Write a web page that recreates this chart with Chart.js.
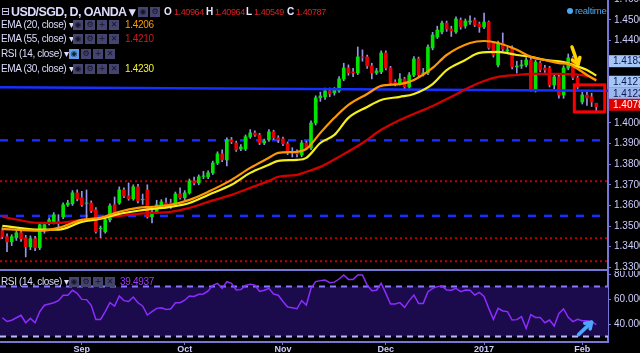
<!DOCTYPE html>
<html><head><meta charset="utf-8">
<script src="https://cdn.jsdelivr.net/npm/chart.js@4.4.0/dist/chart.umd.min.js"></script>
<style>
html,body{margin:0;padding:0;background:#000;width:640px;height:353px;overflow:hidden;}
#wrap{position:relative;width:640px;height:353px;background:#000;}
canvas{position:absolute;left:0;}
#main{top:0;}
#rsi{top:271px;}
.lg{position:absolute;font-family:"Liberation Sans",Arial,sans-serif;color:#dcdcff;white-space:nowrap;font-size:10px;line-height:12px;letter-spacing:-0.35px;}
.ttl{font-weight:bold;font-size:12.5px;line-height:14px;letter-spacing:-0.6px;}
.ic{position:absolute;width:10px;height:10px;background:#44446e;color:#15152c;font-size:8px;line-height:10px;text-align:center;font-family:"DejaVu Sans",sans-serif;letter-spacing:0;}
.ic.on{background:#5e9be8;color:#123;}
.val{position:absolute;font-family:"Liberation Sans",Arial,sans-serif;font-size:10px;line-height:12px;white-space:nowrap;letter-spacing:-0.3px;}
.ohlc{font-size:9px;letter-spacing:-0.4px;}
.b{font-weight:bold;color:#e8e8ff;}
</style>
</head><body>
<div id="wrap">
<canvas id="main" width="640" height="271" style="width:640px;height:271px"></canvas>
<canvas id="rsi" width="640" height="82" style="width:640px;height:82px"></canvas>

<div class="lg" style="left:1px;top:5px;font-size:11px;line-height:14px;font-family:'DejaVu Sans'">⊟</div>
<div class="lg ttl" style="left:11px;top:5px">USD/SGD, D, OANDA ▾</div>
<div class="ic" style="left:138px;top:7px">◉</div><div class="ic" style="left:150px;top:7px">⚙</div>
<div class="val b" style="left:164px;top:6px">O</div><div class="val ohlc" style="left:174px;top:6px;color:#e02020">1.40964</div>
<div class="val b" style="left:206px;top:6px">H</div><div class="val ohlc" style="left:215px;top:6px;color:#e02020">1.40964</div>
<div class="val b" style="left:246px;top:6px">L</div><div class="val ohlc" style="left:254px;top:6px;color:#e02020">1.40549</div>
<div class="val b" style="left:287px;top:6px">C</div><div class="val ohlc" style="left:296px;top:6px;color:#e02020">1.40787</div>

<div class="lg" style="left:1px;top:19px">EMA (20, close) ▾</div>
<div class="ic" style="left:73px;top:20px">◉</div><div class="ic" style="left:85px;top:20px">⚙</div><div class="ic" style="left:97px;top:20px">+</div><div class="ic" style="left:109px;top:20px">✕</div>
<div class="val" style="left:125px;top:19px;color:#ff9a00">1.4206</div>

<div class="lg" style="left:1px;top:33px">EMA (55, close) ▾</div>
<div class="ic" style="left:73px;top:34px">◉</div><div class="ic" style="left:85px;top:34px">⚙</div><div class="ic" style="left:97px;top:34px">+</div><div class="ic" style="left:109px;top:34px">✕</div>
<div class="val" style="left:125px;top:33px;color:#d81818">1.4210</div>

<div class="lg" style="left:1px;top:48px">RSI (14, close) ▾</div>
<div class="ic on" style="left:69px;top:49px">◉</div><div class="ic" style="left:81px;top:49px">⚙</div><div class="ic" style="left:93px;top:49px">+</div><div class="ic" style="left:105px;top:49px">✕</div>

<div class="lg" style="left:1px;top:63px">EMA (30, close) ▾</div>
<div class="ic" style="left:73px;top:64px">◉</div><div class="ic" style="left:85px;top:64px">⚙</div><div class="ic" style="left:97px;top:64px">+</div><div class="ic" style="left:109px;top:64px">✕</div>
<div class="val" style="left:125px;top:63px;color:#f2f230">1.4230</div>

<div class="lg" style="left:1px;top:276px">RSI (14, close) ▾</div>
<div class="ic" style="left:69px;top:277px">◉</div><div class="ic" style="left:81px;top:277px">⚙</div><div class="ic" style="left:93px;top:277px">+</div><div class="ic" style="left:105px;top:277px">✕</div>
<div class="val" style="left:120px;top:276px;color:#9a3cff">39.4937</div>

<div style="position:absolute;left:567px;top:8px;width:6px;height:6px;border-radius:3px;background:#4ea6ee"></div>
<div class="val" style="left:575px;top:5px;color:#4ea6ee;font-size:9.5px">realtime</div>
</div>
<script>
// ---------- DATA ----------
const opens  = [1.3477,1.3448,1.3423,1.3443,1.3467,1.3443,1.3399,1.3438,1.3394,1.3477,1.3515,1.3520,1.3523,1.3545,1.3603,1.3608,1.3661,1.3637,1.3610,1.3612,1.3579,1.3487,1.3472,1.3530,1.3603,1.3612,1.3675,1.3646,1.3632,1.3690,1.3627,1.3675,1.3545,1.3569,1.3593,1.3612,1.3612,1.3603,1.3656,1.3637,1.3661,1.3719,1.3709,1.3741,1.3739,1.3758,1.3806,1.3850,1.3821,1.3918,1.3903,1.3874,1.3874,1.3933,1.3952,1.3942,1.3903,1.3918,1.3957,1.3928,1.3923,1.3899,1.3860,1.3855,1.3845,1.3903,1.3879,1.4000,1.4122,1.4127,1.4156,1.4146,1.4156,1.4214,1.4267,1.4248,1.4243,1.4321,1.4321,1.4277,1.4243,1.4248,1.4340,1.4267,1.4199,1.4194,1.4214,1.4175,1.4233,1.4311,1.4238,1.4243,1.4364,1.4418,1.4442,1.4485,1.4456,1.4442,1.4500,1.4471,1.4490,1.4500,1.4481,1.4466,1.4490,1.4388,1.4282,1.4388,1.4350,1.4364,1.4272,1.4277,1.4282,1.4306,1.4161,1.4291,1.4267,1.4267,1.4185,1.4224,1.4136,1.4267,1.4316,1.4219,1.4102,1.4136,1.4127,1.4096];
const highs  = [1.3492,1.3462,1.3458,1.3480,1.3482,1.3455,1.3452,1.3450,1.3512,1.3518,1.3540,1.3565,1.3555,1.3612,1.3625,1.3672,1.3675,1.3668,1.3675,1.3622,1.3590,1.3500,1.3540,1.3608,1.3641,1.3690,1.3685,1.3709,1.3700,1.3702,1.3655,1.3700,1.3580,1.3625,1.3628,1.3635,1.3630,1.3665,1.3685,1.3672,1.3728,1.3738,1.3748,1.3765,1.3768,1.3815,1.3860,1.3870,1.3928,1.3930,1.3912,1.3895,1.3942,1.3968,1.3962,1.3950,1.3922,1.3968,1.3965,1.3938,1.3932,1.3908,1.3880,1.3870,1.3915,1.3912,1.4010,1.4132,1.4150,1.4170,1.4170,1.4172,1.4225,1.4290,1.4282,1.4265,1.4369,1.4355,1.4330,1.4290,1.4265,1.4350,1.4350,1.4275,1.4210,1.4240,1.4222,1.4245,1.4322,1.4320,1.4265,1.4380,1.4440,1.4470,1.4495,1.4495,1.4470,1.4515,1.4510,1.4505,1.4520,1.4510,1.4490,1.4534,1.4495,1.4395,1.4398,1.4437,1.4368,1.4375,1.4300,1.4305,1.4318,1.4315,1.4305,1.4300,1.4280,1.4275,1.4235,1.4232,1.4278,1.4335,1.4325,1.4228,1.4150,1.4150,1.4145,1.4096];
const lows   = [1.3438,1.3375,1.3405,1.3430,1.3425,1.3350,1.3385,1.3380,1.3385,1.3465,1.3505,1.3510,1.3495,1.3535,1.3595,1.3600,1.3622,1.3595,1.3530,1.3565,1.3465,1.3443,1.3465,1.3520,1.3555,1.3605,1.3638,1.3625,1.3625,1.3612,1.3605,1.3538,1.3515,1.3560,1.3585,1.3590,1.3585,1.3595,1.3630,1.3628,1.3655,1.3700,1.3700,1.3730,1.3730,1.3750,1.3798,1.3812,1.3792,1.3900,1.3862,1.3866,1.3866,1.3925,1.3935,1.3895,1.3895,1.3910,1.3920,1.3905,1.3890,1.3846,1.3835,1.3835,1.3836,1.3870,1.3870,1.3990,1.4105,1.4115,1.4128,1.4135,1.4148,1.4205,1.4232,1.4225,1.4235,1.4300,1.4265,1.4214,1.4235,1.4240,1.4258,1.4185,1.4180,1.4185,1.4165,1.4168,1.4225,1.4225,1.4228,1.4235,1.4355,1.4410,1.4432,1.4445,1.4420,1.4435,1.4455,1.4460,1.4478,1.4468,1.4440,1.4458,1.4358,1.4320,1.4272,1.4350,1.4340,1.4262,1.4242,1.4265,1.4272,1.4155,1.4150,1.4248,1.4245,1.4175,1.4165,1.4120,1.4120,1.4258,1.4210,1.4165,1.4092,1.4085,1.4080,1.4055];
const closes = [1.3448,1.3423,1.3448,1.3467,1.3438,1.3399,1.3438,1.3394,1.3506,1.3506,1.3530,1.3554,1.3520,1.3603,1.3612,1.3661,1.3632,1.3603,1.3612,1.3574,1.3472,1.3490,1.3530,1.3598,1.3564,1.3675,1.3646,1.3632,1.3690,1.3622,1.3630,1.3545,1.3569,1.3603,1.3617,1.3598,1.3598,1.3656,1.3637,1.3661,1.3719,1.3709,1.3739,1.3743,1.3758,1.3806,1.3850,1.3821,1.3918,1.3908,1.3870,1.3884,1.3933,1.3952,1.3942,1.3903,1.3913,1.3957,1.3928,1.3918,1.3899,1.3855,1.3855,1.3850,1.3903,1.3879,1.4000,1.4122,1.4131,1.4156,1.4141,1.4161,1.4214,1.4267,1.4243,1.4243,1.4321,1.4318,1.4277,1.4243,1.4253,1.4340,1.4267,1.4194,1.4194,1.4214,1.4175,1.4233,1.4311,1.4233,1.4243,1.4369,1.4427,1.4451,1.4485,1.4456,1.4447,1.4505,1.4466,1.4495,1.4495,1.4476,1.4466,1.4490,1.4364,1.4330,1.4388,1.4359,1.4355,1.4272,1.4277,1.4282,1.4306,1.4161,1.4296,1.4257,1.4257,1.4185,1.4224,1.4136,1.4267,1.4316,1.4219,1.4175,1.4136,1.4122,1.4102,1.4079];

const rsiValues = [45,42,43,45,47,41,44.5,41,49.9,55,56,57,58.7,63,63,67,64.6,59.7,59.5,55,43.7,43.7,49.9,57.1,54.4,62.4,58.7,58,61.6,57,54.4,47.2,49.9,52.5,53,51.7,52,57,57,59,62.4,62,63.8,64,66.4,71,72.5,68.5,73.8,72.5,67.2,67.5,70.9,71.7,71,66,67,68.5,64,63,58,53.6,53,52.2,58.7,55.2,68.5,73.9,74.7,75.2,73.1,73.5,76,79.2,75.7,75.7,79.2,79.2,71.2,66.7,67,72.5,64.5,56,56,57.1,53.3,58.7,63.2,56.5,56.5,65.9,68.5,69.9,70.4,67.2,67,68.5,65.9,67.2,67,63.2,65.3,62,52.5,43.7,52.5,50.4,49.9,43.2,43.5,45.9,36.5,47.5,45.3,45.3,41,43.2,38.4,48.5,52,45.3,41.9,43.7,42.7,42.7,41.9,39.49];

// EMA lines at sample bars
const ema20Idx = [0,8,12,17,21,25,29,32,36,40,44,49,53,57,59,63,65,68,71,74,78,81,85,88,92,95,100,103,106,110,113,116,119,121,122,125,127];
const ema20    = [1.3486,1.3477,1.3491,1.3530,1.3540,1.3569,1.3588,1.3593,1.3603,1.3627,1.3666,1.3724,1.3782,1.3831,1.3855,1.3860,1.3874,1.3952,1.4025,1.4088,1.4141,1.4180,1.4189,1.4209,1.4267,1.4330,1.4388,1.4398,1.4388,1.4355,1.4321,1.4306,1.4291,1.4287,1.4277,1.4233,1.4206];
const ema30Idx = [0,8,12,17,21,25,29,32,36,40,44,49,53,57,59,63,65,68,71,74,78,81,85,88,92,95,99,102,106,110,113,116,120,122,125,127];
const ema30    = [1.3501,1.3482,1.3482,1.3520,1.3535,1.3559,1.3574,1.3583,1.3593,1.3612,1.3651,1.3700,1.3758,1.3797,1.3816,1.3821,1.3831,1.3903,1.3942,1.4025,1.4078,1.4112,1.4127,1.4141,1.4189,1.4257,1.4306,1.4340,1.4345,1.4330,1.4321,1.4306,1.4296,1.4282,1.4257,1.4230];
const ema55Idx = [0,8,12,17,21,25,29,32,36,40,44,49,53,57,59,63,65,68,72,77,81,85,92,96,100,103,106,110,113,119,125,127];
const ema55    = [1.3545,1.3515,1.3515,1.3530,1.3540,1.3549,1.3559,1.3564,1.3569,1.3588,1.3617,1.3651,1.3685,1.3719,1.3739,1.3748,1.3763,1.3787,1.3836,1.3903,1.3967,1.4015,1.4083,1.4127,1.4175,1.4204,1.4224,1.4233,1.4238,1.4238,1.4228,1.4210];

const monthTickIdx    = [17,39,60,82,103,124];
const monthTickLabels = ['Sep','Oct','Nov','Dec','2017','Feb'];
const priceTicks = [1.33,1.34,1.35,1.36,1.37,1.38,1.39,1.40,1.41,1.42,1.43,1.44,1.45,1.46];
const rsiTicks   = [40,60,80];
const rsiBand    = [70,30];

const trendLine       = [1.4173,1.4156];      // blue solid, start/end
const blueDashLevels  = [1.3916,1.3549];
const redDotLevels    = [1.3717,1.3440,1.3329];
const axisMarkers     = [1.41835,1.41273,1.41236,1.40787];
const boxRange        = [122.3,128.8,1.4185,1.4054];  // x0,x1,top,bottom
const yellowArrow     = [121.8,1.4369,123.1,1.4285];  // from -> to
const blueArrowRsi    = [123.2,31.5,126.0,41.5];

// ---------- STYLE ----------
const GREEN='#00e400', RED='#e60000', WICK='rgb(150,150,230)', AX='rgb(118,118,215)', TXT='rgb(205,205,255)';
const XMIN=-0.5, XMAX=129.5;
const markerStyle=[{bg:'#a6c6f6',fg:'#0c1850',dy:-24},{bg:'#a6c6f6',fg:'#0c1850',dy:-15},{bg:'#9db8ee',fg:'#0c1850',dy:-4},{bg:'#e00000',fg:'#ffffff',dy:-2}];

Chart.defaults.font.family='"Liberation Sans", Arial, sans-serif';
Chart.defaults.animation=false;

const bodyColors = opens.map((o,i)=> closes[i]>=o ? GREEN : RED);
const levelDs = (v,color,dash,w)=>({type:'line',data:[{x:XMIN,y:v},{x:XMAX,y:v}],borderColor:color,borderDash:dash,borderWidth:w,pointRadius:0,order:3});

const mainPlugin = {
  id:'mainDeco',
  afterDatasetsDraw(chart){
    const {ctx,scales:{x,y}} = chart;
    ctx.save();
    ctx.strokeStyle='#ff0000'; ctx.lineWidth=3;
    const bx0=x.getPixelForValue(boxRange[0]), bx1=x.getPixelForValue(boxRange[1]);
    const by0=y.getPixelForValue(boxRange[2]), by1=y.getPixelForValue(boxRange[3]);
    ctx.strokeRect(bx0,by0,bx1-bx0,by1-by0);
    const ax0=x.getPixelForValue(yellowArrow[0]), ay0=y.getPixelForValue(yellowArrow[1]);
    const ax1=x.getPixelForValue(yellowArrow[2]), ay1=y.getPixelForValue(yellowArrow[3]);
    drawArrow(ctx,ax0,ay0,ax1,ay1,'#ffd400',3.5,7);
    ctx.restore();
  },
  afterDraw(chart){
    const {ctx,scales:{y},chartArea} = chart;
    ctx.save();
    ctx.font='10px "Liberation Sans", Arial, sans-serif';
    ctx.textBaseline='middle';
    axisMarkers.forEach((v,i)=>{
      const st=markerStyle[i];
      const py=y.getPixelForValue(v)+st.dy;
      ctx.fillStyle=st.bg; ctx.fillRect(chartArea.right+1,py-6,40,12);
      ctx.fillStyle=st.fg; ctx.fillText(v.toFixed(5),chartArea.right+5,py+0.5);
    });
    ctx.strokeStyle=AX; ctx.lineWidth=2;
    ctx.beginPath(); ctx.moveTo(0,chartArea.bottom-1); ctx.lineTo(chartArea.right+1,chartArea.bottom-1); ctx.stroke();
    ctx.restore();
  }
};
function drawArrow(ctx,x0,y0,x1,y1,color,w,head){
  ctx.strokeStyle=color; ctx.lineWidth=w; ctx.lineCap='round'; ctx.lineJoin='round';
  ctx.beginPath(); ctx.moveTo(x0,y0); ctx.lineTo(x1,y1); ctx.stroke();
  const a=Math.atan2(y1-y0,x1-x0);
  ctx.beginPath();
  ctx.moveTo(x1-head*Math.cos(a-0.6),y1-head*Math.sin(a-0.6));
  ctx.lineTo(x1,y1);
  ctx.lineTo(x1-head*Math.cos(a+0.6),y1-head*Math.sin(a+0.6));
  ctx.stroke();
}

new Chart(document.getElementById('main'),{
  type:'bar',
  data:{datasets:[
    {type:'line',data:ema20Idx.map((i,k)=>({x:i,y:ema20[k]})),borderColor:'#ff9800',borderWidth:2.2,pointRadius:0,cubicInterpolationMode:'monotone',order:0},
    {type:'line',data:ema30Idx.map((i,k)=>({x:i,y:ema30[k]})),borderColor:'#f5ee1a',borderWidth:2.2,pointRadius:0,cubicInterpolationMode:'monotone',order:0},
    {type:'line',data:ema55Idx.map((i,k)=>({x:i,y:ema55[k]})),borderColor:'#d40000',borderWidth:2.2,pointRadius:0,cubicInterpolationMode:'monotone',order:0},
    {type:'line',data:[{x:XMIN,y:trendLine[0]},{x:XMAX,y:trendLine[1]}],borderColor:'#1530ff',borderWidth:2.5,pointRadius:0,order:0},
    levelDs(blueDashLevels[0],'#1a2cff',[8,8],2.5),
    levelDs(blueDashLevels[1],'#1a2cff',[8,8],2.5),
    levelDs(redDotLevels[0],'#c00000',[2,3],2),
    levelDs(redDotLevels[1],'#c00000',[2,3],2),
    levelDs(redDotLevels[2],'#c00000',[2,3],2),
    {type:'bar',data:opens.map((o,i)=>({x:i,y:[o,closes[i]]})),backgroundColor:bodyColors,barThickness:3,grouped:false,order:1},
    {type:'bar',data:lows.map((l,i)=>({x:i,y:[l,highs[i]]})),backgroundColor:WICK,barThickness:1,grouped:false,order:2}
  ]},
  options:{
    responsive:false,devicePixelRatio:1,animation:false,events:[],
    layout:{padding:0},
    plugins:{legend:{display:false},tooltip:{enabled:false}},
    scales:{
      x:{type:'linear',min:XMIN,max:XMAX,offset:false,display:false},
      y:{position:'right',min:1.32816,max:1.4597,
         afterBuildTicks(s){s.ticks=priceTicks.map(v=>({value:v}));},
         afterFit(s){s.width=32;s.paddingTop=0;s.paddingBottom=0;},
         ticks:{callback:v=>Number(v).toFixed(5),color:TXT,font:{size:10},padding:3},
         grid:{drawOnChartArea:false,color:AX,tickLength:3},
         border:{color:AX,width:2}}
    }
  },
  plugins:[mainPlugin]
});

const rsiPlugin = {
  id:'rsiDeco',
  beforeDatasetsDraw(chart){
    const {ctx,scales:{x,y},chartArea} = chart;
    const y70=y.getPixelForValue(rsiBand[0]), y30=y.getPixelForValue(rsiBand[1]);
    ctx.save();
    ctx.fillStyle='#1b0b4c'; ctx.fillRect(chartArea.left,y70,chartArea.right-chartArea.left,y30-y70);
    ctx.lineWidth=2; ctx.setLineDash([6,5]);
    ctx.strokeStyle='rgb(135,120,255)';
    ctx.beginPath(); ctx.moveTo(chartArea.left,y70); ctx.lineTo(chartArea.right,y70); ctx.stroke();
    ctx.strokeStyle='rgb(190,185,255)';
    ctx.beginPath(); ctx.moveTo(chartArea.left,y30); ctx.lineTo(chartArea.right,y30); ctx.stroke();
    ctx.restore();
  },
  afterDatasetsDraw(chart){
    const {ctx,scales:{x,y}} = chart;
    ctx.save();
    drawArrow(ctx,x.getPixelForValue(blueArrowRsi[0]),y.getPixelForValue(blueArrowRsi[1]),x.getPixelForValue(blueArrowRsi[2]),y.getPixelForValue(blueArrowRsi[3]),'#4aa8ff',3.5,7);
    ctx.restore();
  }
};

new Chart(document.getElementById('rsi'),{
  type:'line',
  data:{datasets:[{data:rsiValues.map((v,i)=>({x:i,y:v})),borderColor:'#8c2cff',borderWidth:1.5,pointRadius:0,tension:0}]},
  options:{
    responsive:false,devicePixelRatio:1,animation:false,events:[],
    layout:{padding:0},
    plugins:{legend:{display:false},tooltip:{enabled:false}},
    scales:{
      x:{type:'linear',min:XMIN,max:XMAX,offset:false,
         afterBuildTicks(s){s.ticks=monthTickIdx.map(v=>({value:v}));},
         afterFit(s){s.height=11;s.paddingLeft=0;s.paddingRight=0;},
         ticks:{callback:(v)=>monthTickLabels[monthTickIdx.indexOf(v)],color:TXT,font:{size:9,weight:'bold',lineHeight:1},padding:0,maxRotation:0,autoSkip:false},
         grid:{drawOnChartArea:false,color:AX,tickLength:3},
         border:{color:AX,width:2}},
      y:{position:'right',min:25.6,max:82.4,
         afterBuildTicks(s){s.ticks=rsiTicks.map(v=>({value:v}));},
         afterFit(s){s.width=32;s.paddingTop=0;s.paddingBottom=0;},
         ticks:{callback:v=>Number(v).toFixed(5),color:TXT,font:{size:10},padding:3},
         grid:{drawOnChartArea:false,color:AX,tickLength:3},
         border:{color:AX,width:2}}
    }
  },
  plugins:[rsiPlugin]
});
</script>
</body></html>
